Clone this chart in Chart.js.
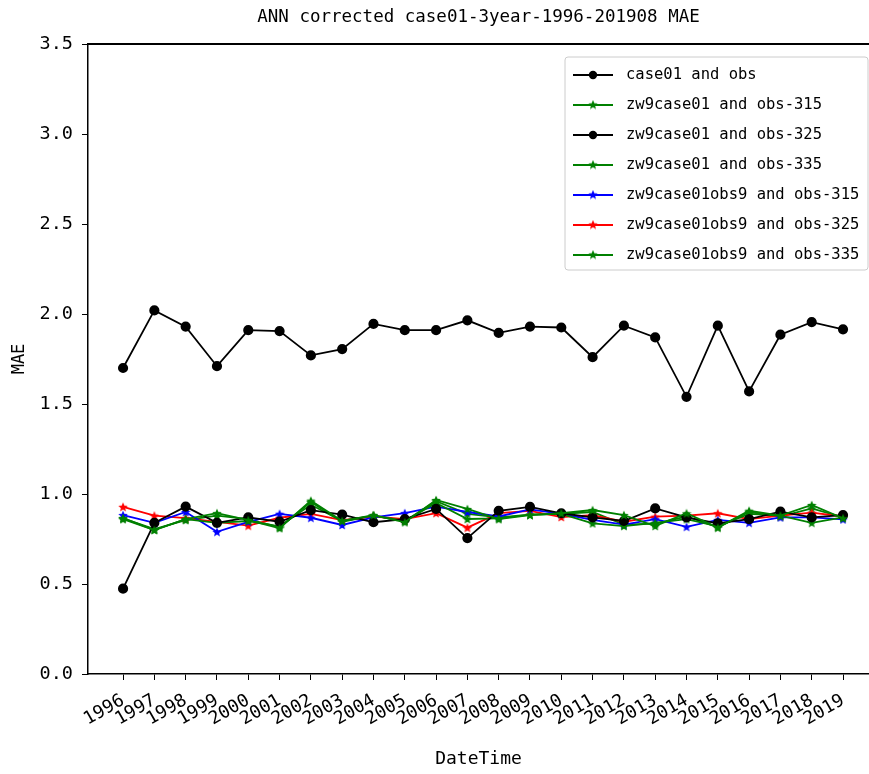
<!DOCTYPE html>
<html>
<head>
<meta charset="utf-8">
<script src="https://cdn.jsdelivr.net/npm/chart.js@4.4.0/dist/chart.umd.min.js"></script>
<style>
  html, body { margin: 0; padding: 0; background: #fff; }
  #wrap { width: 869px; height: 774px; }
</style>
</head>
<body>
<div id="wrap"><canvas id="chart-mae"></canvas></div>
<script>
// years on the x axis
var years = [1996, 1997, 1998, 1999, 2000, 2001, 2002, 2003, 2004, 2005, 2006, 2007,
             2008, 2009, 2010, 2011, 2012, 2013, 2014, 2015, 2016, 2017, 2018, 2019];
var yTicks = [0.0, 0.5, 1.0, 1.5, 2.0, 2.5, 3.0, 3.5];

var case01Obs = [1.70, 2.02, 1.93, 1.71, 1.91, 1.905, 1.77, 1.805, 1.945, 1.91, 1.91, 1.965,
                 1.895, 1.93, 1.925, 1.76, 1.935, 1.87, 1.54, 1.935, 1.57, 1.885, 1.955, 1.915];
var zw315 = [0.866, 0.80, 0.86, 0.894, 0.855, 0.81, 0.963, 0.85, 0.883, 0.843, 0.967, 0.917,
             0.86, 0.883, 0.893, 0.911, 0.883, 0.822, 0.893, 0.813, 0.907, 0.88, 0.939, 0.865];
var zw325 = [0.474, 0.84, 0.93, 0.84, 0.87, 0.846, 0.91, 0.885, 0.843, 0.86, 0.917, 0.755,
             0.907, 0.928, 0.893, 0.87, 0.85, 0.92, 0.87, 0.837, 0.86, 0.902, 0.87, 0.883];
var zw335 = [0.86, 0.80, 0.86, 0.84, 0.85, 0.82, 0.94, 0.85, 0.88, 0.85, 0.95, 0.861,
             0.865, 0.885, 0.89, 0.837, 0.822, 0.84, 0.86, 0.82, 0.89, 0.88, 0.84, 0.87];
var obs9_315 = [0.883, 0.84, 0.90, 0.79, 0.845, 0.89, 0.868, 0.828, 0.87, 0.894, 0.93, 0.90,
                0.875, 0.915, 0.89, 0.856, 0.83, 0.86, 0.818, 0.856, 0.84, 0.87, 0.87, 0.859];
var obs9_325 = [0.929, 0.88, 0.866, 0.845, 0.824, 0.868, 0.89, 0.855, 0.875, 0.86, 0.894, 0.813,
                0.894, 0.906, 0.872, 0.883, 0.846, 0.874, 0.88, 0.893, 0.86, 0.88, 0.896, 0.875];
var obs9_335 = [0.865, 0.805, 0.855, 0.88, 0.86, 0.815, 0.955, 0.845, 0.88, 0.85, 0.96, 0.89,
                0.87, 0.885, 0.89, 0.90, 0.83, 0.835, 0.875, 0.815, 0.90, 0.875, 0.92, 0.87];

var FONT = "'DejaVu Sans Mono', 'Liberation Mono', monospace";

// filled five point star like matplotlib '*'
function starMarker(color, size) {
    var c = document.createElement('canvas');
    c.width = size; c.height = size;
    var ctx = c.getContext('2d');
    var cx = size / 2, cy = size / 2 + 0.5, R = size / 2, r = R * 0.45;
    ctx.beginPath();
    for (var i = 0; i < 10; i++) {
        var rad = (i % 2 === 0) ? R : r;
        var a = -Math.PI / 2 + i * Math.PI / 5;
        var px = cx + rad * Math.cos(a), py = cy + rad * Math.sin(a);
        if (i === 0) ctx.moveTo(px, py); else ctx.lineTo(px, py);
    }
    ctx.closePath();
    ctx.fillStyle = color;
    ctx.fill();
    return c;
}

function series(label, data, color, star) {
    return {
        label: label,
        data: years.map(function (yr, i) { return { x: yr, y: data[i] }; }),
        borderColor: color,
        backgroundColor: color,
        borderWidth: 1.8,
        pointStyle: star ? starMarker(color, 10) : 'circle',
        pointRadius: star ? 5 : 4.2,
        pointHoverRadius: star ? 5 : 4.2,
        tension: 0
    };
}

// top spine (the right one is cut off in the original) + legend box inside the plot
var framePlugin = {
    id: 'frame',
    afterDraw: function (chart) {
        var ctx = chart.ctx, a = chart.chartArea;
        ctx.save();
        ctx.strokeStyle = '#000';
        ctx.lineWidth = 2;
        ctx.beginPath();
        ctx.moveTo(a.left, Math.round(a.top));
        ctx.lineTo(chart.width, Math.round(a.top));
        ctx.stroke();

        var x0 = 565, y0 = 57, w = 303, h = 213;
        ctx.fillStyle = 'rgba(255,255,255,0.8)';
        ctx.strokeStyle = '#cccccc';
        ctx.lineWidth = 1;
        ctx.beginPath();
        ctx.roundRect(x0, y0, w, h, 3);
        ctx.fill();
        ctx.stroke();

        ctx.font = '15.5px ' + FONT;
        ctx.textBaseline = 'middle';
        chart.data.datasets.forEach(function (ds, i) {
            var y = 75 + i * 30;
            ctx.strokeStyle = ds.borderColor;
            ctx.lineWidth = 1.8;
            ctx.beginPath();
            ctx.moveTo(573, y);
            ctx.lineTo(613, y);
            ctx.stroke();
            if (ds.pointStyle === 'circle') {
                ctx.fillStyle = ds.borderColor;
                ctx.beginPath();
                ctx.arc(593, y, 4.2, 0, Math.PI * 2);
                ctx.fill();
            } else {
                ctx.drawImage(ds.pointStyle, 588, y - 5.5);
            }
            ctx.fillStyle = '#000';
            ctx.fillText(ds.label, 626, y);
        });
        ctx.restore();
    }
};

var chartM = document.getElementById("chart-mae");
var chartMae = new Chart(chartM, {
    type: 'line',
    plugins: [framePlugin],
    data: {
        datasets: [
            series("case01 and obs", case01Obs, "#000000", false),
            series("zw9case01 and obs-315", zw315, "#008000", true),
            series("zw9case01 and obs-325", zw325, "#000000", false),
            series("zw9case01 and obs-335", zw335, "#008000", true),
            series("zw9case01obs9 and obs-315", obs9_315, "#0000ff", true),
            series("zw9case01obs9 and obs-325", obs9_325, "#ff0000", true),
            series("zw9case01obs9 and obs-335", obs9_335, "#008000", true)
        ]
    },
    options: {
        responsive: true,
        maintainAspectRatio: false,
        animation: false,
        layout: { autoPadding: false, padding: { top: 0, right: 0, left: 0, bottom: 0 } },
        plugins: {
            legend: { display: false },
            tooltip: { enabled: false },
            title: {
                display: true,
                fullSize: false,
                text: 'ANN corrected case01-3year-1996-201908 MAE',
                color: '#000',
                font: { family: FONT, size: 17.5, weight: 'normal' },
                padding: { top: 7, bottom: 16 }
            }
        },
        scales: {
            x: {
                type: 'linear',
                min: 1994.88,
                max: 2019.83,
                afterFit: function (s) {
                    s.height = 100;
                    s.paddingLeft = 0;
                    s.paddingRight = 0;
                },
                afterBuildTicks: function (s) {
                    s.ticks = years.map(function (v) { return { value: v }; });
                },
                grid: { display: true, drawOnChartArea: false, color: '#000', tickLength: 6 },
                border: { display: true, color: '#000', width: 1.5 },
                ticks: {
                    color: '#000',
                    font: { family: FONT, size: 18 },
                    minRotation: 30,
                    maxRotation: 30,
                    autoSkip: false,
                    padding: 10,
                    callback: function (v) { return String(v); }
                },
                title: {
                    display: true,
                    text: 'DateTime',
                    color: '#000',
                    font: { family: FONT, size: 18 },
                    padding: { top: 0, bottom: 4 }
                }
            },
            y: {
                min: 0,
                max: 3.5,
                afterFit: function (s) { s.width = 88; },
                afterBuildTicks: function (s) {
                    s.ticks = yTicks.map(function (v) { return { value: v }; });
                },
                grid: { display: true, drawOnChartArea: false, color: '#000', tickLength: 6 },
                border: { display: true, color: '#000', width: 1.5 },
                ticks: {
                    color: '#000',
                    font: { family: FONT, size: 18.5 },
                    padding: 9,
                    callback: function (v) { return Number(v).toFixed(1); }
                },
                title: {
                    display: true,
                    text: 'MAE',
                    color: '#000',
                    font: { family: FONT, size: 17 },
                    padding: { top: 9, bottom: 0 }
                }
            }
        }
    }
});
</script>
</body>
</html>
